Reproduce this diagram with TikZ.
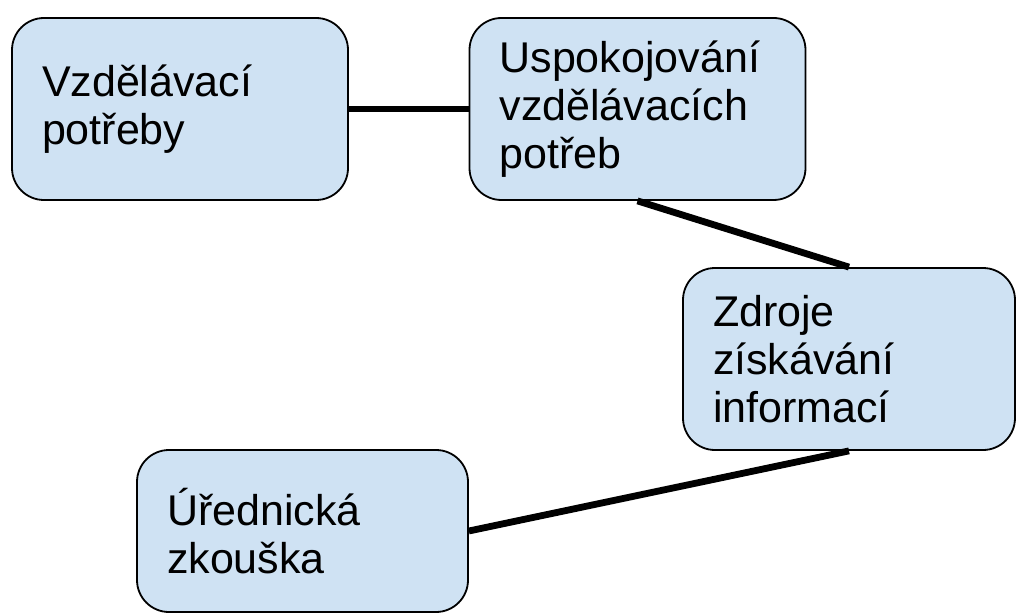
\documentclass[tikz,border=0pt]{standalone}
\usepackage{fontspec}
\setmainfont{Liberation Sans}
\definecolor{boxblue}{RGB}{207,226,243}
\tikzset{
  topic/.style={draw=black, line width=0.9pt, fill=boxblue, rounded corners=16pt,
    align=left, text width=#1, inner xsep=15pt, inner ysep=0pt,
    font=\fontsize{21.5pt}{24pt}\selectfont},
  topic/.default=138pt,
  link/.style={line width=3.4pt, black}
}
\begin{document}
\begin{tikzpicture}
\useasboundingbox (0pt,0pt) rectangle (509pt,-307.5pt);

% Draw the boxes
\node[topic, minimum height=91pt] (potreby) at (90pt,-54.5pt) {Vzdělávací\\potřeby};
\node[topic, minimum height=91pt] (uspokojovani) at (318.75pt,-54.5pt) {Uspokojování\\vzdělávacích\\potřeb};
\node[topic=136pt, minimum height=91pt] (zdroje) at (424.5pt,-179.5pt) {Zdroje\\získávání\\informací};
\node[topic=135.5pt, minimum height=81pt] (zkouska) at (151.25pt,-265.5pt) {Úřednická\\zkouška};

% Draw the links
\draw[link] (potreby.east) -- (uspokojovani.west);
\draw[link] (uspokojovani.south) -- (zdroje.north);
\draw[link] (zdroje.south) -- (zkouska.east);
\end{tikzpicture}
\end{document}
